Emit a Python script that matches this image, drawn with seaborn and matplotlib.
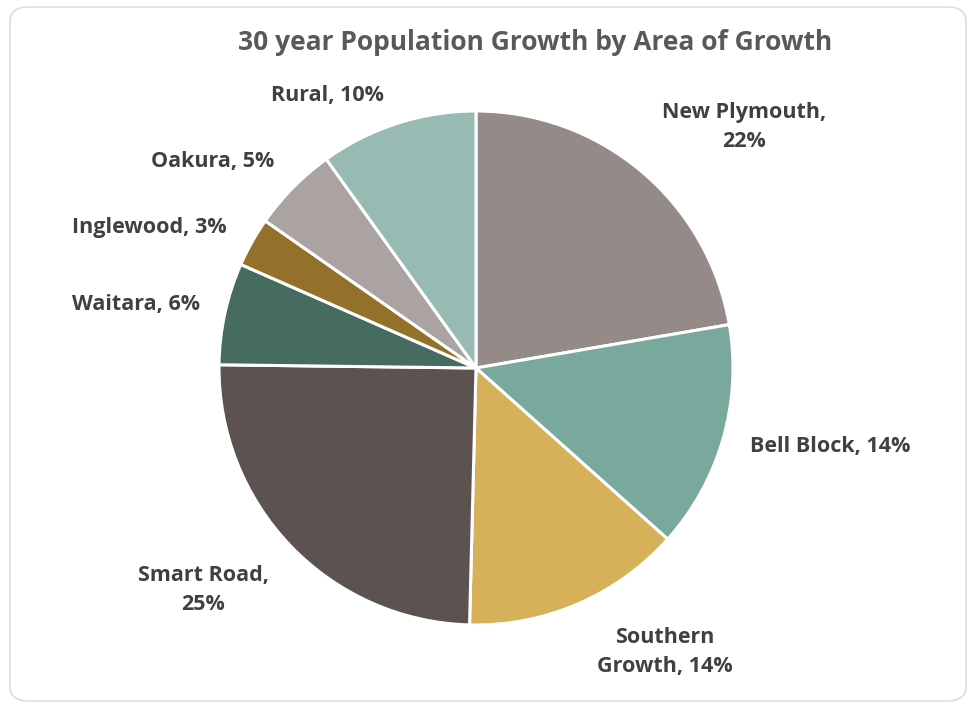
import matplotlib
matplotlib.use("Agg")
import matplotlib.pyplot as plt
import seaborn as sns
from matplotlib.patches import FancyBboxPatch

# ---- data ----
areas = ["New Plymouth", "Bell Block", "Southern Growth", "Smart Road",
         "Waitara", "Inglewood", "Oakura", "Rural"]
shares = [22.3, 14.3, 13.8, 24.8, 6.4, 3.1, 5.4, 9.9]
label_texts = ["New Plymouth,\n22%", "Bell Block, 14%", "Southern\nGrowth, 14%",
               "Smart Road,\n25%", "Waitara, 6%", "Inglewood, 3%", "Oakura, 5%",
               "Rural, 10%"]
slice_colors = ["#948B88", "#79A89C", "#D7B05A", "#5C5350",
                "#466B61", "#94712A", "#ABA3A1", "#97BAB2"]
title = "30 year Population Growth by Area of Growth"

# ---- style ----
sns.set_theme(style="white")
plt.rcParams["font.family"] = ["Open Sans", "DejaVu Sans"]
palette = sns.color_palette(slice_colors)

W, H = 969, 704
fig = plt.figure(figsize=(W / 100, H / 100), dpi=100)
fig.patch.set_facecolor("white")

# rounded border
border = FancyBboxPatch((10 / W, 3 / H), (W - 13) / W, (H - 10) / H,
                        boxstyle="round,pad=0,rounding_size=0.02",
                        transform=fig.transFigure, facecolor="none",
                        edgecolor="#DDDDDD", linewidth=1.2, clip_on=False)
fig.patches.append(border)

# pie axes placed by pixel box
cx, cy, r = 476, 368, 257
ax = fig.add_axes([(cx - r) / W, (H - cy - r) / H, 2 * r / W, 2 * r / H])
ax.pie(shares, colors=palette, startangle=90, counterclock=False,
       radius=1.0, wedgeprops=dict(edgecolor="white", linewidth=2.2))
ax.set_xlim(-1.0, 1.0)
ax.set_ylim(-1.0, 1.0)
ax.set_aspect("equal")
ax.axis("off")

# label positions (pixel centers)
label_pos = [(744, 127), (830, 447), (665, 652), (203, 590),
             (136, 304), (149, 227), (213, 162), (327, 95)]
for txt, (px, py) in zip(label_texts, label_pos):
    fig.text(px / W, 1 - py / H, txt, ha="center", va="center",
             fontsize=15.5, fontweight="bold", color="#404040",
             linespacing=1.55)

fig.text(535 / W, 1 - 42 / H, title, ha="center", va="center",
         fontsize=19, fontweight="bold", color="#595959")

fig.savefig("out.png", dpi=100, facecolor="white")
